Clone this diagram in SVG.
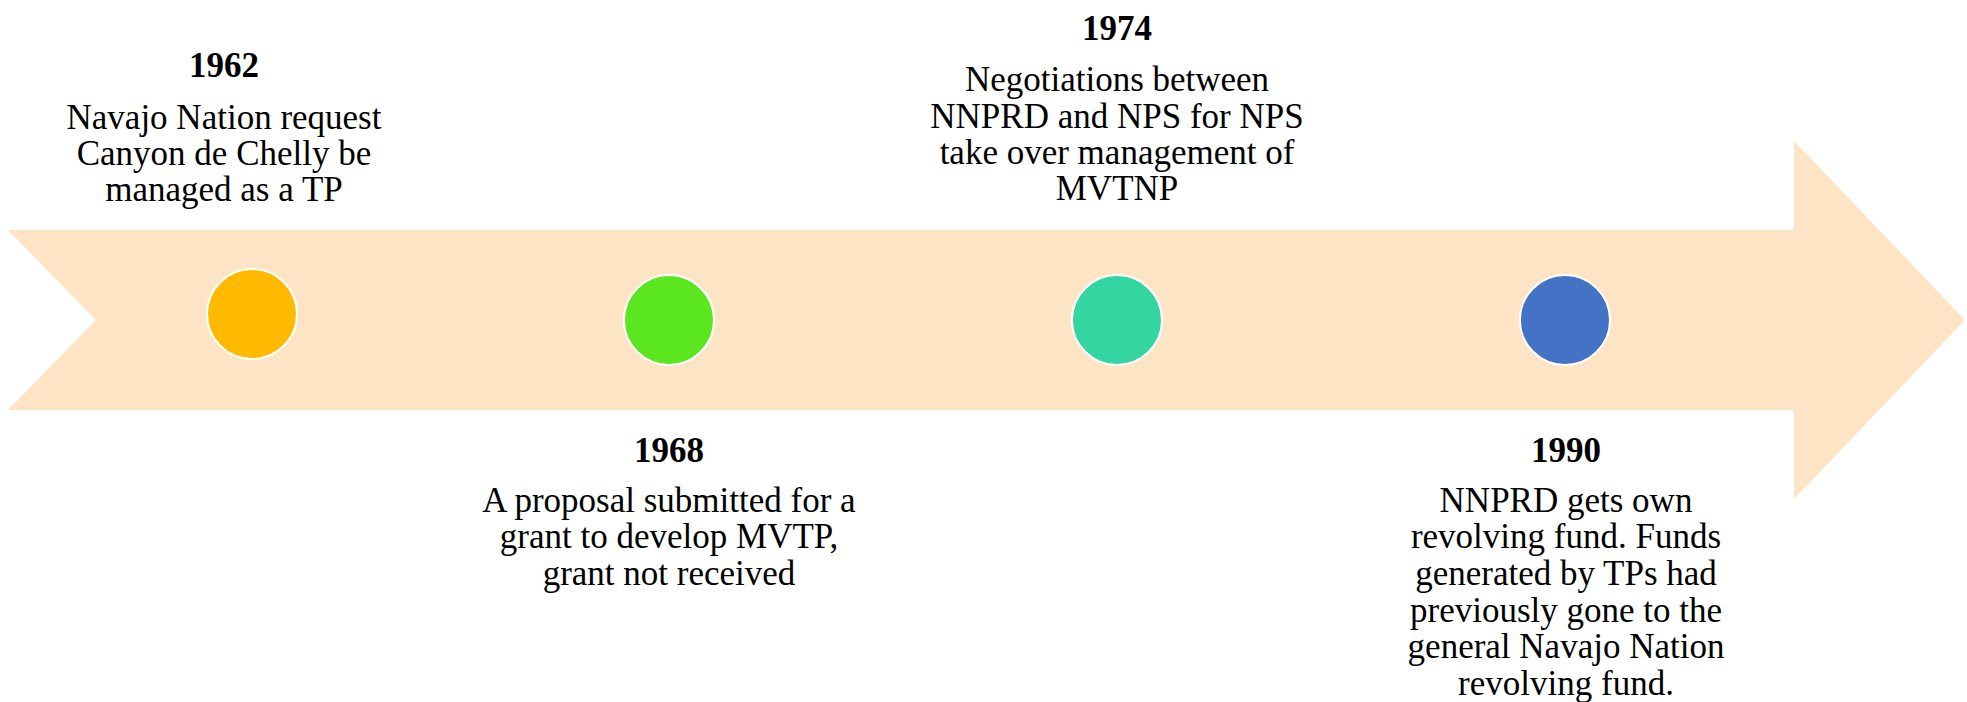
<svg xmlns="http://www.w3.org/2000/svg" width="1967" height="702" viewBox="0 0 1967 702">
<style>
.yr{font-family:"Liberation Serif","Times New Roman",serif;font-weight:bold;font-size:35px;fill:#000;text-anchor:middle}
.tx{font-family:"Liberation Serif","Times New Roman",serif;font-size:35px;fill:#000;text-anchor:middle}
.dot{stroke:#ffffff;stroke-width:2}
</style>
<rect width="1967" height="702" fill="#ffffff"/>
<g id="timeline-arrow">
<path d="M8,230 L1794,230 L1794,141 L1965,320 L1794,499 L1794,410 L8,410 L96,320 Z" fill="#FDE4C4"/>
</g>
<g id="connectors"></g>
<g id="node-1962">
<circle class="dot" cx="252" cy="314" r="45" fill="#FFBA00"/>
<text class="yr" x="224" y="77">1962</text>
<text class="tx" x="224" y="129">Navajo Nation request</text>
<text class="tx" x="224" y="165">Canyon de Chelly be</text>
<text class="tx" x="224" y="201">managed as a TP</text>
</g>
<g id="node-1968">
<circle class="dot" cx="669" cy="320" r="45" fill="#5BE71E"/>
<text class="yr" x="669" y="462">1968</text>
<text class="tx" x="669" y="512">A proposal submitted for a</text>
<text class="tx" x="669" y="548">grant to develop MVTP,</text>
<text class="tx" x="669" y="585">grant not received</text>
</g>
<g id="node-1974">
<circle class="dot" cx="1117" cy="320" r="45" fill="#33D6A0"/>
<text class="yr" x="1117" y="40">1974</text>
<text class="tx" x="1117" y="91">Negotiations between</text>
<text class="tx" x="1117" y="128">NNPRD and NPS for NPS</text>
<text class="tx" x="1117" y="164">take over management of</text>
<text class="tx" x="1117" y="200">MVTNP</text>
</g>
<g id="node-1990">
<circle class="dot" cx="1565" cy="320" r="45" fill="#4472C4"/>
<text class="yr" x="1566" y="462">1990</text>
<text class="tx" x="1566" y="512">NNPRD gets own</text>
<text class="tx" x="1566" y="548">revolving fund. Funds</text>
<text class="tx" x="1566" y="585">generated by TPs had</text>
<text class="tx" x="1566" y="622">previously gone to the</text>
<text class="tx" x="1566" y="658">general Navajo Nation</text>
<text class="tx" x="1566" y="695">revolving fund.</text>
</g>
</svg>
